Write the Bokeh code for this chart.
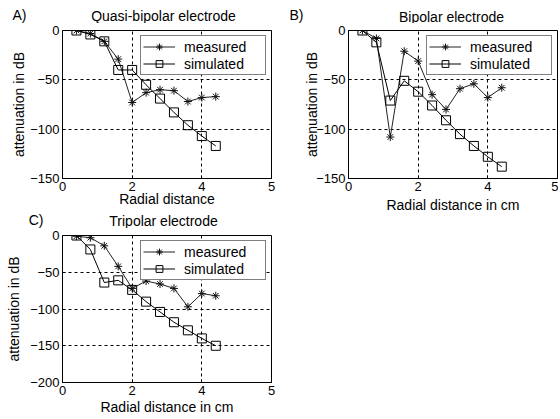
from bokeh.plotting import figure
from bokeh.layouts import column, row
from bokeh.models import Range1d, FixedTicker, Legend, LegendItem, Label
from bokeh.embed import file_html
from bokeh.resources import INLINE

# ---------------- data ----------------
radial = [0.4, 0.8, 1.2, 1.6, 2.0, 2.4, 2.8, 3.2, 3.6, 4.0, 4.4]

quasi_measured = [0, -3, -11, -29, -73, -63, -60, -61, -72, -68, -67]
quasi_simulated = [0, -4, -11, -40, -40, -55, -69, -83, -96, -107, -117]

bipolar_measured = [0, -8, -108, -21, -31, -65, -80, -59, -54, -68, -58]
bipolar_simulated = [0, -12, -71, -51, -62, -76, -91, -105, -117, -128, -138]

tripolar_measured = [-1, -3, -14, -42, -72, -62, -66, -72, -97, -79, -82]
tripolar_simulated = [0, -19, -64, -61, -74, -90, -104, -118, -129, -140, -150]

x_ticks = [0, 2, 4, 6]
x_tick_labels = {6: "5"}
y_ticks_ab = [-150, -100, -50, 0]
y_ticks_c = [-200, -150, -100, -50, 0]

FONT = "Liberation Sans"


def header(width, height, title, title_x, title_y, tag, tag_standoff, tag_y):
    """A strip above a panel: title as a Label inside the (aligned) frame,
    panel tag as a lone tick label of a hidden left axis."""
    h = figure(width=width, height=height, min_border=0,
               x_range=Range1d(0, 1), y_range=Range1d(0, height),
               x_axis_location=None, y_axis_location="left",
               output_backend="svg", toolbar_location=None,
               background_fill_color="white", border_fill_color="white")
    h.outline_line_color = None
    h.xgrid.visible = False
    h.ygrid.visible = False
    ax = h.yaxis[0]
    ax.ticker = FixedTicker(ticks=[tag_y])
    ax.major_label_overrides = {tag_y: tag}
    ax.axis_line_color = None
    ax.major_tick_line_color = None
    ax.minor_tick_line_color = None
    ax.major_tick_in = 0
    ax.major_tick_out = 0
    ax.major_label_standoff = tag_standoff
    ax.major_label_text_font = FONT
    ax.major_label_text_font_size = "14px"
    ax.major_label_text_color = "black"
    h.add_layout(Label(x=title_x, y=title_y, x_units="screen", y_units="screen",
                       text=title, text_font=FONT, text_font_size="14px",
                       text_align="center", text_baseline="middle", text_color="black"))
    return h


def make_panel(xlabel, meas, sim, y_lo, y_ticks,
               fw, fh, bl, br, bt, bb, xstd, ystd):
    p = figure(frame_width=fw, frame_height=fh,
               min_border_left=bl, min_border_right=br,
               min_border_top=bt, min_border_bottom=bb,
               x_range=Range1d(0, 6), y_range=Range1d(y_lo, 0),
               output_backend="svg", toolbar_location=None,
               background_fill_color="white", border_fill_color="white")
    p.outline_line_color = "black"
    p.outline_line_width = 1
    p.outline_line_alpha = 1

    for ax in (p.xaxis[0], p.yaxis[0]):
        ax.axis_line_color = "black"
        ax.major_tick_in = 3
        ax.major_tick_out = 0
        ax.major_tick_line_color = "black"
        ax.minor_tick_line_color = None
        ax.major_label_text_font = FONT
        ax.major_label_text_font_size = "13px"
        ax.major_label_text_color = "black"
        ax.major_label_standoff = 3
        ax.axis_label_text_font = FONT
        ax.axis_label_text_font_size = "14px"
        ax.axis_label_text_font_style = "normal"
        ax.axis_label_text_color = "black"

    p.xaxis.ticker = FixedTicker(ticks=x_ticks)
    p.xaxis.major_label_overrides = x_tick_labels
    p.yaxis.ticker = FixedTicker(ticks=y_ticks)
    p.xaxis.axis_label = xlabel
    p.yaxis.axis_label = "attenuation in dB"
    p.xaxis.axis_label_standoff = xstd
    p.yaxis.axis_label_standoff = ystd

    p.xgrid.ticker = FixedTicker(ticks=[t for t in x_ticks if 0 < t < 6])
    p.ygrid.ticker = FixedTicker(ticks=[t for t in y_ticks if y_lo < t < 0])
    for g in (p.xgrid[0], p.ygrid[0]):
        g.grid_line_color = "black"
        g.grid_line_dash = "3 3"
        g.grid_line_width = 1
        g.grid_line_alpha = 1

    lm = p.line(radial, meas, line_color="#222222", line_width=1)
    sm = p.scatter(radial, meas, marker="asterisk", size=8,
                   line_color="#111111", line_width=1)
    ls = p.line(radial, sim, line_color="black", line_width=1)
    ss = p.scatter(radial, sim, marker="square", size=9,
                   line_color="black", fill_color=None, line_width=1)

    legend = Legend(items=[LegendItem(label="measured", renderers=[lm, sm]),
                           LegendItem(label="simulated", renderers=[ls, ss])],
                    location="top_right", margin=5, padding=2, spacing=0,
                    glyph_width=32, glyph_height=17, label_height=17,
                    label_width=79, label_standoff=9,
                    label_text_font=FONT, label_text_font_size="14px",
                    label_text_color="black",
                    border_line_color="black", border_line_width=1,
                    background_fill_color="white", background_fill_alpha=1)
    p.add_layout(legend)
    return p


WL = 285   # left column width
WR = 273   # right column width
FL_A = 62  # frame left, left column
FL_B = 348 - WL  # frame left inside right column

# left column: A then C
hA = header(WL, 23, "Quasi-bipolar electrode", 163 - FL_A, 8, "A)", FL_A - 26, 8.5)
pA = make_panel("Radial distance", quasi_measured, quasi_simulated, -150, y_ticks_ab,
                209, 148, FL_A, WL - FL_A - 209, 7, 32, -3, 0)

hC = header(WL, 18, "Tripolar electrode", 163 - FL_A, 8, "C)", FL_A - 43, 7)
pC = make_panel("Radial distance in cm", tripolar_measured, tripolar_simulated, -200, y_ticks_c,
                209, 147, FL_A, WL - FL_A - 209, 7, 37, 1, 5)

# right column: B
hB = header(WR, 23, "Bipolar electrode", 451 - 348, 7, "B)", 45, 7)
pB = make_panel("Radial distance in cm", bipolar_measured, bipolar_simulated, -150, y_ticks_ab,
                209, 148, FL_B, WR - FL_B - 209, 7, 38, 3, -7)

layout = row(column(hA, pA, hC, pC, spacing=0), column(hB, pB, spacing=0), spacing=0)
open("out.html", "w").write(file_html(layout, INLINE))
